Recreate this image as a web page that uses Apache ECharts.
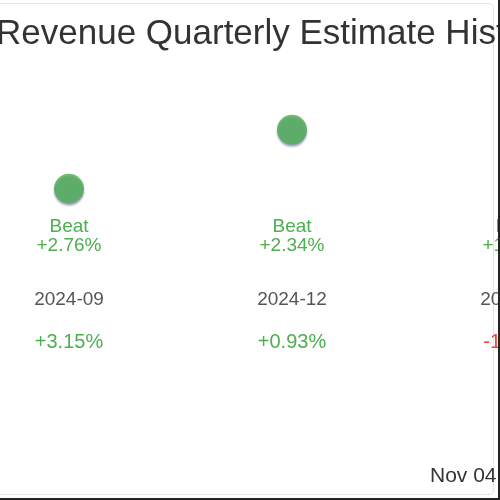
<!DOCTYPE html>
<html>
<head>
<meta charset="utf-8">
<script src="https://cdn.jsdelivr.net/npm/echarts@6/dist/echarts.min.js"></script>
<style>
  html, body { margin: 0; padding: 0; background: #fff; }
  #frame { position: absolute; left: 0; top: 0; width: 498px; height: 498px; overflow: hidden;
           border-right: 2px solid #222; border-bottom: 2px solid #222; background: #fff; }
  #card { position: absolute; left: -10px; top: 3px; width: 502px; height: 490px;
          border: 1px solid #e4e4e8; border-radius: 5px; }
  #chart { position: absolute; left: -60px; top: 0; width: 710px; height: 500px; }
</style>
</head>
<body>
<div id="frame">
  <div id="card"></div>
  <div id="chart"></div>
</div>
<script>
// ---- data ----
const quarters = ['2024-09', '2024-12', '2025-03'];
const actualRevenue = [9.45, 10.46, 9.90];
const outcome = ['Beat', 'Beat', 'Beat'];
const surprisePct = [2.76, 2.34, 1.12];
const priceMovePct = [3.15, 0.93, -1.87];
const titleText = 'Revenue Quarterly Estimate History';
const dateText = 'Nov 04, 2025';

const GREEN = '#4CAF50';
const RED = '#F44336';
const FONT = '"Liberation Sans", Arial, sans-serif';
const fmt = v => (v >= 0 ? '+' : '') + v.toFixed(2) + '%';

const chart = echarts.init(document.getElementById('chart'), null, { renderer: 'canvas' });

const baseAxis = {
  type: 'category',
  data: quarters,
  position: 'bottom',
  gridIndex: 0,
  axisLine: { show: false },
  axisTick: { show: false },
  splitLine: { show: false }
};

chart.setOption({
  backgroundColor: 'transparent',
  animation: false,
  title: [
    { text: titleText, left: 51, top: 12,
      textStyle: { fontFamily: FONT, fontSize: 35, fontWeight: 'normal', color: '#333' } },
    { text: dateText, left: 485, top: 461,
      textStyle: { fontFamily: FONT, fontSize: 21, fontWeight: 'normal', color: '#333' } }
  ],
  grid: { left: 17.5, right: 23.5, top: 40, bottom: 285 },
  yAxis: { type: 'value', min: 9, max: 12, show: false },
  xAxis: [
    Object.assign({}, baseAxis, {
      axisLabel: {
        interval: 0, margin: 2,
        formatter: (v, i) => {
          const s = surprisePct[i] >= 0 ? 'g' : 'r';
          return '{' + s + '|' + outcome[i] + '}\n{' + s + '|' + fmt(surprisePct[i]) + '}';
        },
        rich: {
          g: { color: GREEN, fontFamily: FONT, fontSize: 19, lineHeight: 19 },
          r: { color: RED, fontFamily: FONT, fontSize: 19, lineHeight: 19 }
        }
      }
    }),
    Object.assign({}, baseAxis, {
      offset: 73,
      axisLabel: { interval: 0, margin: 2, color: '#555', fontFamily: FONT, fontSize: 19, lineHeight: 19 }
    }),
    Object.assign({}, baseAxis, {
      offset: 115,
      axisLabel: {
        interval: 0, margin: 2,
        formatter: (v, i) => '{' + (priceMovePct[i] >= 0 ? 'g' : 'r') + '|' + fmt(priceMovePct[i]) + '}',
        rich: {
          g: { color: GREEN, fontFamily: FONT, fontSize: 20, lineHeight: 20 },
          r: { color: RED, fontFamily: FONT, fontSize: 20, lineHeight: 20 }
        }
      }
    })
  ],
  series: [{
    type: 'scatter',
    xAxisIndex: 0,
    data: actualRevenue,
    symbol: 'circle',
    symbolSize: 30,
    itemStyle: {
      color: GREEN,
      shadowColor: 'rgba(70,60,150,0.6)',
      shadowBlur: 2,
      shadowOffsetY: 2
    }
  }]
});
</script>
</body>
</html>
